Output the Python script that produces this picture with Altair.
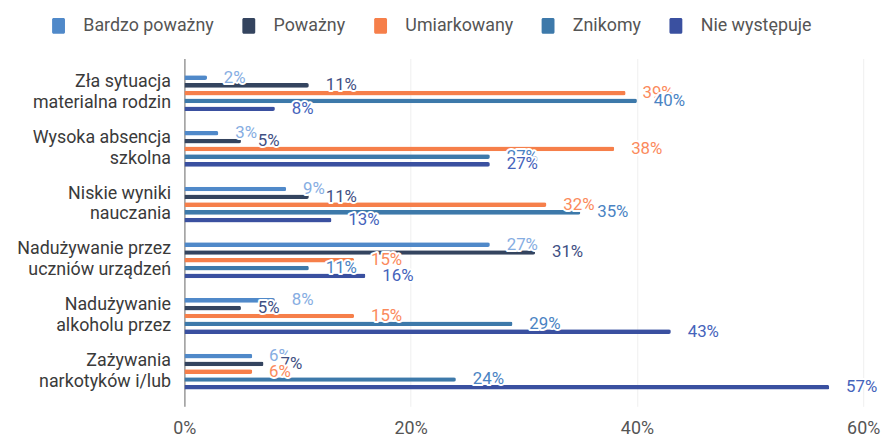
import altair as alt
import pandas as pd

categories = [
    "Zła sytuacja|materialna rodzin",
    "Wysoka absencja|szkolna",
    "Niskie wyniki|nauczania",
    "Nadużywanie przez|uczniów urządzeń",
    "Nadużywanie|alkoholu przez",
    "Zażywania|narkotyków i/lub",
]
series = ["Bardzo poważny", "Poważny", "Umiarkowany", "Znikomy", "Nie występuje"]

bardzo_powazny = [2, 3, 9, 27, 8, 6]
powazny = [11, 5, 11, 31, 5, 7]
umiarkowany = [39, 38, 32, 15, 15, 6]
znikomy = [40, 27, 35, 11, 29, 24]
nie_wystepuje = [8, 27, 13, 16, 43, 57]

x_ticks = [0, 20, 40, 60]

bar_colors = ["#5089c9", "#34445f", "#f67f4a", "#3d79aa", "#3a50a0"]
label_colors = ["#86ade2", "#3f5083", "#fb8a5c", "#4a83c3", "#4563bb"]

series_values = [bardzo_powazny, powazny, umiarkowany, znikomy, nie_wystepuje]
rows = []
for s, vals in zip(series, series_values):
    for c, v in zip(categories, vals):
        rows.append({"category": c, "series": s, "value": v})
df = pd.DataFrame(rows)

legend_shape = ("M-0.6125,-1 h1.225 a0.2,0.2 0 0 1 0.2,0.2 v1.6 a0.2,0.2 0 0 1 -0.2,0.2 "
                "h-1.225 a0.2,0.2 0 0 1 -0.2,-0.2 v-1.6 a0.2,0.2 0 0 1 0.2,-0.2 Z")

base = alt.Chart(df).encode(
    y=alt.Y(
        "category:N",
        sort=categories,
        scale=alt.Scale(domain=categories, paddingInner=0.356, paddingOuter=0.30),
        axis=alt.Axis(
            title=None,
            labelExpr="split(datum.label, '|')",
            labelFont="Roboto",
            labelFontSize=18,
            labelColor="#3a3a3a",
            labelLineHeight=21,
            labelPadding=14,
            labelOffset=-11,
            ticks=False,
            domain=True,
            domainColor="#9a9a9a",
            domainWidth=1.5,
            grid=False,
            labelLimit=300,
        ),
    ),
    yOffset=alt.YOffset(
        "series:N",
        sort=series,
        scale=alt.Scale(domain=series, paddingInner=0.4, paddingOuter=0),
    ),
    x=alt.X(
        "value:Q",
        scale=alt.Scale(domain=[0, 60]),
        axis=alt.Axis(
            title=None,
            values=x_ticks,
            labelExpr="datum.value + '%'",
            labelFont="Roboto",
            labelFontSize=18,
            labelColor="#555555",
            labelPadding=13,
            labelFlush=False,
            ticks=False,
            domain=False,
            grid=True,
            gridColor="#efefef",
            gridWidth=1,
        ),
    ),
)

bars = base.mark_bar(cornerRadiusEnd=2).encode(
    color=alt.Color(
        "series:N",
        sort=series,
        scale=alt.Scale(domain=series, range=bar_colors),
        legend=alt.Legend(
            title=None,
            orient="none",
            direction="horizontal",
            legendX=-136,
            legendY=-42,
            symbolType=legend_shape,
            symbolSize=256,
            symbolStrokeWidth=0,
            labelFont="Roboto",
            labelFontSize=18,
            labelColor="#555555",
            labelOffset=16,
            columnPadding=26,
        ),
    )
)

layers = [bars]
for s, col in zip(series, label_colors):
    sub = base.transform_filter(alt.datum.series == s).transform_calculate(
        label="datum.value + '%'"
    )
    halo = sub.mark_text(
        align="left", baseline="middle", dx=17, font="Roboto", fontSize=17,
        stroke="white", strokeWidth=4, strokeJoin="round", fill="white",
    ).encode(text="label:N")
    txt = sub.mark_text(
        align="left", baseline="middle", dx=17, font="Roboto", fontSize=17,
        fill=col,
    ).encode(text="label:N")
    layers += [halo, txt]

chart = alt.layer(*layers).properties(
    width=685,
    height=351,
    autosize=alt.AutoSizeParams(type="none"),
    padding={"left": 178, "top": 49, "right": 19, "bottom": 30},
    background="white",
).configure_view(stroke=None)

chart.save("out.html", embed_options={"renderer": "svg", "actions": False})
